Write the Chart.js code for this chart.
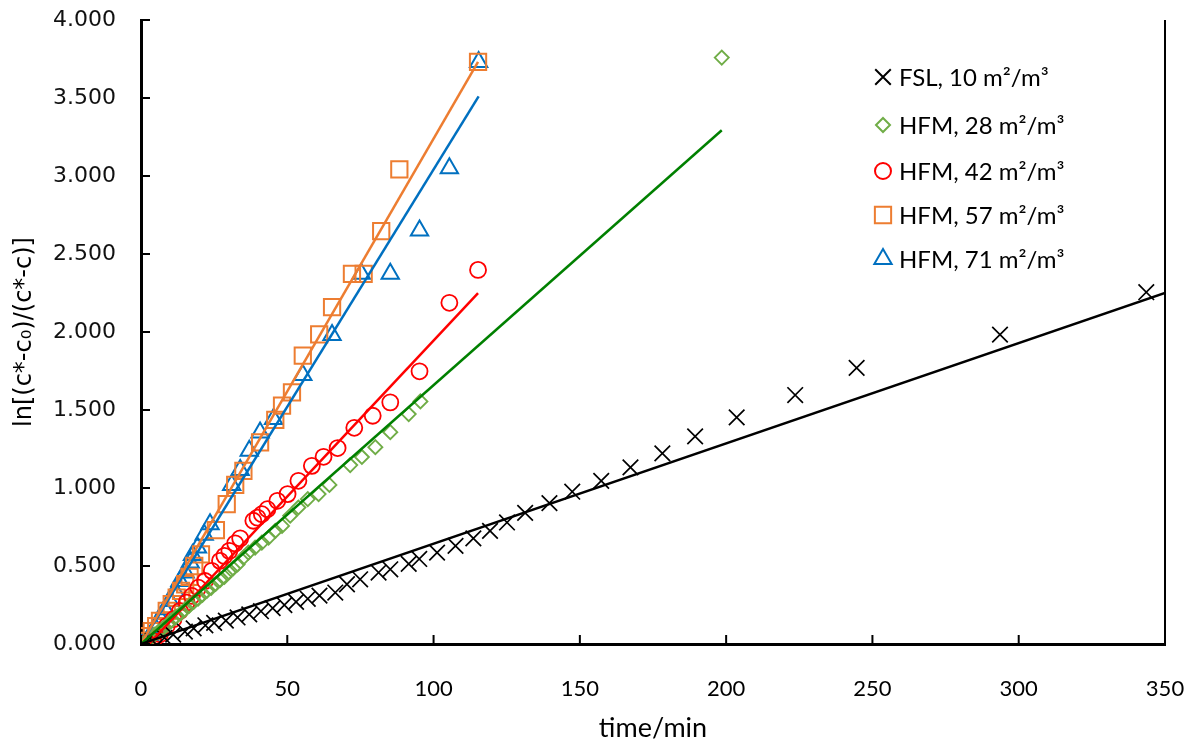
<!DOCTYPE html>
<html lang="en">
<head>
  <meta charset="UTF-8" />
  <title>ln plot</title>
  <script src="https://cdn.jsdelivr.net/npm/chart.js"></script>
  <style>
    html, body { margin: 0; padding: 0; background: #fff; }
    #wrap { width: 1196px; height: 744px; }
  </style>
</head>
<body>
  <div id="wrap"><canvas id="chart"></canvas></div>

  <script>
    // FSL, 10 m2/m3
    const fslX = [1, 4, 8, 11, 15, 18, 22, 25, 29, 33, 37, 41, 45, 49, 53, 57, 61, 66.4, 70.4, 74.9, 81.2, 85.2, 91.5, 95.1, 101.2, 107.5, 113.6, 119.3, 125.1, 131.3, 139.6, 147.4, 157.3, 167.3, 178.2, 189.4, 203.6, 223.6, 244.6, 293.6, 343.6];
    const fslY = [0.0, 0.02, 0.04, 0.06, 0.08, 0.10, 0.12, 0.135, 0.15, 0.17, 0.19, 0.21, 0.23, 0.25, 0.27, 0.29, 0.31, 0.33, 0.383, 0.415, 0.458, 0.479, 0.514, 0.545, 0.586, 0.629, 0.677, 0.725, 0.779, 0.841, 0.903, 0.976, 1.046, 1.132, 1.222, 1.331, 1.453, 1.596, 1.77, 1.983, 2.255];

    // HFM, 28 m2/m3
    const h28X = [0, 1.5, 3, 4.5, 6, 7.5, 9, 10.5, 12, 13.5, 15, 16.5, 18, 19.5, 21, 22.5, 24, 25.5, 27, 28.5, 30, 31.5, 33, 35, 36.7, 39, 41.3, 43.6, 45.9, 48.2, 51, 53.8, 57, 60.7, 64.4, 71.5, 75.5, 80.1, 85.2, 91.5, 95.5, 198.5];
    const h28Y = [0, 0.015, 0.035, 0.06, 0.08, 0.10, 0.125, 0.15, 0.175, 0.195, 0.22, 0.245, 0.27, 0.29, 0.315, 0.34, 0.36, 0.385, 0.41, 0.43, 0.46, 0.485, 0.51, 0.554, 0.586, 0.618, 0.65, 0.682, 0.725, 0.757, 0.822, 0.875, 0.929, 0.961, 1.02, 1.147, 1.199, 1.262, 1.358, 1.474, 1.555, 3.759];

    // HFM, 42 m2/m3
    const h42X = [0, 2, 4.2, 6.5, 8.8, 11.1, 13.3, 15.6, 17.4, 19.6, 21.9, 24.2, 27.0, 28.5, 30.2, 32.2, 33.9, 38.4, 39.8, 41.3, 43.2, 46.6, 50.1, 53.8, 58.4, 62.4, 67.2, 72.9, 79.2, 85.2, 95.2, 105.4, 115.2];
    const h42Y = [0, 0.005, 0.019, 0.062, 0.116, 0.159, 0.212, 0.265, 0.308, 0.361, 0.404, 0.469, 0.533, 0.565, 0.597, 0.645, 0.677, 0.79, 0.81, 0.832, 0.864, 0.918, 0.961, 1.046, 1.142, 1.2, 1.256, 1.386, 1.463, 1.549, 1.748, 2.187, 2.398];

    // HFM, 57 m2/m3
    const h57X = [0, 1.8, 3.7, 5.2, 6.5, 8.8, 10.5, 12.2, 13.7, 15.1, 16.6, 18.2, 20.5, 25.6, 29.3, 32.2, 35, 40.7, 45.9, 48.2, 51.6, 55.3, 60.9, 65.3, 72.1, 76.1, 82.1, 88.3, 115.2];
    const h57Y = [0.02, 0.05, 0.083, 0.115, 0.148, 0.212, 0.255, 0.297, 0.34, 0.383, 0.43, 0.5, 0.575, 0.73, 0.897, 1.02, 1.11, 1.292, 1.436, 1.528, 1.613, 1.848, 1.985, 2.16, 2.373, 2.373, 2.646, 3.042, 3.731];

    // HFM, 71 m2/m3
    const h71X = [0, 0.8, 2, 3.1, 4.8, 6.5, 8.2, 9.9, 11.6, 13.3, 15.1, 16.8, 17.6, 19.3, 21.6, 23.6, 31, 33.9, 37, 40.7, 45.3, 55.3, 65.3, 75.3, 85.2, 95.2, 105.4, 115.4];
    const h71Y = [0, 0.0, 0.02, 0.051, 0.105, 0.169, 0.222, 0.276, 0.34, 0.404, 0.458, 0.522, 0.57, 0.618, 0.7, 0.768, 1.02, 1.115, 1.239, 1.356, 1.443, 1.725, 1.98, 2.373, 2.373, 2.65, 3.05, 3.731];

    // linear trend lines: [start, end]
    const fitFslX = [0, 350],   fitFslY = [0, 2.25];
    const fit28X  = [0, 198.5], fit28Y  = [0, 3.293];
    const fit42X  = [2.7, 115.2], fit42Y = [0, 2.249];
    const fit57X  = [0, 115.2], fit57Y  = [0, 3.731];
    const fit71X  = [0, 115.4], fit71Y  = [0, 3.511];

    const legendLabels = ['FSL, 10 m²/m³', 'HFM, 28 m²/m³', 'HFM, 42 m²/m³', 'HFM, 57 m²/m³', 'HFM, 71 m²/m³'];
    const xTicks = [0, 50, 100, 150, 200, 250, 300, 350];
    const yTicks = [0, 0.5, 1, 1.5, 2, 2.5, 3, 3.5, 4];

    const pts = (xs, ys) => xs.map((x, i) => ({ x, y: ys[i] }));

    function markers(label, xs, ys, color, style, radius, width) {
      return {
        label, data: pts(xs, ys), showLine: false,
        pointStyle: style, pointRadius: radius, pointBorderColor: color,
        pointBackgroundColor: 'rgba(0,0,0,0)', pointBorderWidth: width, borderColor: color
      };
    }
    function fit(xs, ys, color) {
      return {
        label: 'fit', data: pts(xs, ys), showLine: true, pointRadius: 0,
        borderColor: color, borderWidth: 2.5, fill: false
      };
    }

    const markerSets = [
      markers(legendLabels[0], fslX, fslY, '#000000', 'crossRot', 11, 1.7),
      markers(legendLabels[1], h28X, h28Y, '#70AD47', 'rectRot', 7, 1.9),
      markers(legendLabels[2], h42X, h42Y, '#FF0000', 'circle', 8, 1.8),
      markers(legendLabels[3], h57X, h57Y, '#ED7D31', 'rect', 11.5, 2),
      markers(legendLabels[4], h71X, h71Y, '#0070C0', 'triangle', 10, 2)
    ];

    const fitSets = [
      fit(fitFslX, fitFslY, '#000000'),
      fit(fit28X, fit28Y, '#008000'),
      fit(fit42X, fit42Y, '#FF0000'),
      fit(fit57X, fit57Y, '#ED7D31'),
      fit(fit71X, fit71Y, '#0070C0')
    ];

    // inward tick marks, right frame line and inner legend
    const decor = {
      id: 'decor',
      afterDraw(chart) {
        const { ctx, chartArea: a, scales } = chart;
        ctx.save();
        ctx.strokeStyle = '#000';
        ctx.lineWidth = 2;
        ctx.beginPath();
        yTicks.forEach(v => {
          const y = scales.y.getPixelForValue(v);
          ctx.moveTo(a.left, y); ctx.lineTo(a.left + 9, y);
        });
        xTicks.forEach(v => {
          const x = scales.x.getPixelForValue(v);
          ctx.moveTo(x, a.bottom); ctx.lineTo(x, a.bottom - 9);
        });
        ctx.moveTo(a.right, a.top); ctx.lineTo(a.right, a.bottom);
        ctx.stroke();

        ctx.font = '24px Lato';
        ctx.textBaseline = 'middle';
        const rowsY = [77, 125, 171, 215, 259];
        markerSets.forEach((ds, i) => {
          const mx = 883, my = rowsY[i];
          ctx.strokeStyle = ds.pointBorderColor;
          ctx.fillStyle = 'rgba(0,0,0,0)';
          Chart.helpers.drawPoint(ctx, {
            pointStyle: ds.pointStyle, radius: ds.pointRadius,
            borderWidth: ds.pointBorderWidth, rotation: 0
          }, mx, my);
          ctx.fillStyle = '#000';
          ctx.fillText(ds.label, 899, my + 1);
        });
        ctx.restore();
      }
    };

    // invisible tick marks push labels away from the axis without adding edge padding
    const hiddenTicks = len => ({
      display: true, drawOnChartArea: false, drawTicks: true,
      tickLength: len, tickColor: 'rgba(0,0,0,0)'
    });

    new Chart(document.getElementById('chart'), {
      type: 'scatter',
      data: { datasets: [...fitSets, ...markerSets] },
      options: {
        responsive: true,
        maintainAspectRatio: false,
        animation: false,
        layout: { padding: { top: 20, right: 31, left: 0, bottom: 0 } },
        plugins: { legend: { display: false }, tooltip: { enabled: false } },
        scales: {
          x: {
            type: 'linear', min: 0, max: 350,
            afterFit: s => { s.height = 100; },
            afterBuildTicks: s => { s.ticks = xTicks.map(v => ({ value: v })); },
            grid: hiddenTicks(32),
            border: { display: true, color: '#000', width: 3 },
            ticks: { color: '#000', font: { family: 'Lato', size: 22 }, padding: 0, maxRotation: 0 },
            title: { display: true, text: 'time/min', color: '#000', font: { family: 'Lato', size: 27 }, padding: { top: 0, bottom: 0 } }
          },
          y: {
            type: 'linear', min: 0, max: 4,
            afterFit: s => { s.width = 141; },
            afterBuildTicks: s => { s.ticks = yTicks.map(v => ({ value: v })); },
            grid: hiddenTicks(25),
            border: { display: true, color: '#000', width: 3 },
            ticks: { color: '#111', font: { family: 'DejaVu Sans', size: 22 }, padding: 0, callback: v => v.toFixed(3) },
            title: { display: true, text: 'ln[(c*-c₀)/(c*-c)]', color: '#000', font: { family: 'DejaVu Sans', size: 24 }, padding: { top: 10, bottom: 10 } }
          }
        }
      },
      plugins: [decor]
    });
  </script>
</body>
</html>
